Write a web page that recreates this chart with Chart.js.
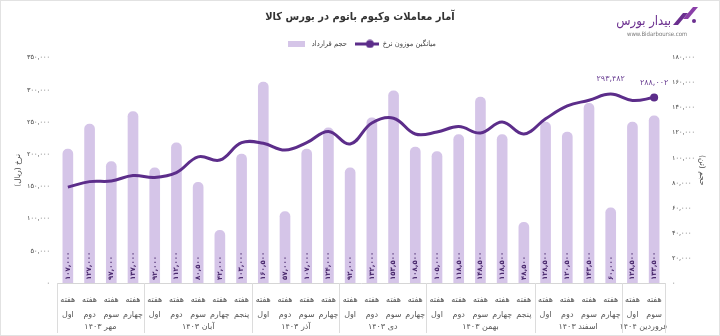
<!DOCTYPE html>
<html lang="fa">
<head>
<meta charset="utf-8">
<script src="https://cdn.jsdelivr.net/npm/chart.js@4.4.1/dist/chart.umd.min.js"></script>
<style>
  html, body { margin: 0; padding: 0; background: #fff; }
  #wrap { position: relative; width: 720px; height: 336px; overflow: hidden; }
  #frame { position: absolute; left: 0; top: 0; width: 718px; height: 334px; border: 1px solid #e2e2e2; pointer-events: none; }
  #logo { position: absolute; left: 624px; top: 4px; width: 80px; height: 34px; font-family: "DejaVu Sans Condensed", "DejaVu Sans", sans-serif; }
  #logo .name { position: absolute; right: 33px; top: 9px; white-space: nowrap; font-size: 13px; color: #6b2f8f; direction: rtl; }
  #logo .url { position: absolute; left: 3px; top: 26px; font-size: 6px; color: #7a7a7a; }
  #logo svg { position: absolute; left: 47px; top: 1px; }
</style>
</head>
<body>
<div id="wrap">
  <canvas id="c" width="720" height="336"></canvas>
  <div id="logo">
    <svg width="28" height="22" viewBox="0 0 28 22"><path d="M2 20 L12 8 L17 8 L7 20 Z" fill="#6b2f8f"/><path d="M12 14 L22 2 L27 2 L17 14 Z" fill="#8a3fa8"/><circle cx="23" cy="16" r="2" fill="#6b2f8f"/></svg>
    <div class="name">بیدار بورس</div>
    <div class="url">www.Bidarbourse.com</div>
  </div>
  <div id="frame"></div>
</div>
<script>
// ---- data ----
const weekNames = ["اول","دوم","سوم","چهارم",
                   "اول","دوم","سوم","چهارم","پنجم",
                   "اول","دوم","سوم","چهارم",
                   "اول","دوم","سوم","چهارم",
                   "اول","دوم","سوم","چهارم","پنجم",
                   "اول","دوم","سوم","چهارم",
                   "اول","سوم"];
const monthLabels = ["مهر ۱۴۰۳","آبان ۱۴۰۳","آذر ۱۴۰۳","دی ۱۴۰۳","بهمن ۱۴۰۳","اسفند ۱۴۰۳","فروردین ۱۴۰۴"];
const monthSpans = [4,5,4,4,5,4,2];
const volume = [107000,127000,97000,137000,
                92000,112000,80500,42000,103000,
                160500,57000,107000,124000,
                92000,132000,153500,108500,
                105000,118500,148500,118500,48500,
                128500,120500,143500,60000,
                128500,133500];
const price = [149000,157500,158500,167000,
               164000,171500,196000,191000,218000,
               217000,206500,218000,235500,
               216000,248500,256000,231500,
               234500,243000,233000,250000,231500,
               255000,275000,284000,293482,
               283500,288002];
const labeledPricePoints = [25, 27];
const titleText = "آمار معاملات وکیوم باتوم در بورس کالا";
const volumeName = "حجم قرارداد";
const priceName = "میانگین موزون نرخ";
const leftAxisTitle = "نرخ (ریال)";
const rightAxisTitle = "حجم (تن)";

// ---- helpers ----
const FONT = '"DejaVu Sans", sans-serif';
const CFONT = '"DejaVu Sans Condensed", "DejaVu Sans", sans-serif';
const faDigits = '۰۱۲۳۴۵۶۷۸۹';
const fa = n => Number(n).toLocaleString('en-US').replace(/\d/g, d => faDigits[d]);
const BAR = '#d5c5e8';
const LINE = '#5c2d8a';

function makeIcon(w, h, draw) {
  const c = document.createElement('canvas');
  c.width = w; c.height = h;
  draw(c.getContext('2d'));
  return c;
}
const barIcon = makeIcon(17, 6, g => { g.fillStyle = BAR; g.fillRect(0, 0, 17, 6); });
const lineIcon = makeIcon(24, 9, g => {
  g.strokeStyle = LINE; g.lineWidth = 3; g.beginPath(); g.moveTo(0, 4.5); g.lineTo(24, 4.5); g.stroke();
  g.fillStyle = LINE; g.beginPath(); g.arc(15, 4.5, 4, 0, Math.PI * 2); g.fill();
});

const extras = {
  id: 'extras',
  afterDatasetsDraw(chart) {
    const ctx = chart.ctx;
    const barMeta = chart.getDatasetMeta(1);
    ctx.save();
    ctx.fillStyle = '#4b2a6e';
    ctx.font = 'bold 7px ' + FONT;
    ctx.textBaseline = 'middle';
    ctx.textAlign = 'left';
    barMeta.data.forEach((el, i) => {
      ctx.save();
      ctx.translate(el.x, el.base - 3);
      ctx.rotate(-Math.PI / 2);
      ctx.fillText(fa(volume[i]), 0, 0);
      ctx.restore();
    });
    const lineMeta = chart.getDatasetMeta(0);
    ctx.fillStyle = '#6a3f93';
    ctx.font = '8px ' + FONT;
    ctx.textAlign = 'center';
    labeledPricePoints.forEach(i => {
      const p = lineMeta.data[i];
      ctx.fillText(fa(price[i]), p.x, p.y - 15);
    });
    ctx.restore();
  },
  afterDraw(chart) {
    const ctx = chart.ctx;
    const xs = chart.scales.x;
    const area = chart.chartArea;
    const px = i => xs.getPixelForValue(i);
    const half = (px(1) - px(0)) / 2;
    ctx.save();
    ctx.strokeStyle = '#dcdcdc';
    ctx.lineWidth = 1;
    ctx.fillStyle = '#555';
    ctx.font = '8px ' + FONT;
    ctx.textAlign = 'center';
    ctx.textBaseline = 'middle';
    let start = 0;
    const bounds = [px(0) - half];
    monthSpans.forEach((n, k) => {
      const end = start + n - 1;
      const cx = (px(start) + px(end)) / 2;
      ctx.fillText(monthLabels[k], cx, area.bottom + 44);
      bounds.push(px(end) + half);
      start += n;
    });
    bounds.forEach(b => {
      const x = Math.round(b) + 0.5;
      ctx.beginPath();
      ctx.moveTo(x, area.bottom);
      ctx.lineTo(x, area.bottom + 50);
      ctx.stroke();
    });
    ctx.restore();
  }
};

new Chart(document.getElementById('c'), {
  type: 'bar',
  data: {
    labels: weekNames.map(w => ["هفته", w]),
    datasets: [
      {
        type: 'line',
        label: priceName,
        data: price,
        yAxisID: 'yL',
        borderColor: LINE,
        backgroundColor: LINE,
        borderWidth: 3,
        tension: 0.4,
        pointRadius: price.map((v, i) => i === price.length - 1 ? 4 : 0),
        pointBackgroundColor: LINE,
        pointBorderWidth: 0,
        order: 0
      },
      {
        type: 'bar',
        label: volumeName,
        data: volume,
        yAxisID: 'yR',
        backgroundColor: BAR,
        barThickness: 10,
        borderRadius: { topLeft: 5, topRight: 5, bottomLeft: 0, bottomRight: 0 },
        borderSkipped: 'bottom',
        order: 1
      }
    ]
  },
  options: {
    responsive: false,
    animation: false,
    layout: { padding: { top: 0, bottom: 0, left: 0, right: 0 } },
    plugins: {
      tooltip: { enabled: false },
      title: {
        display: true,
        text: titleText,
        color: '#333',
        font: { family: CFONT, size: 11, weight: 'bold' },
        padding: { top: 11, bottom: 8 }
      },
      legend: {
        display: true,
        labels: {
          usePointStyle: true,
          pointStyleWidth: 24,
          boxHeight: 8,
          padding: 8,
          color: '#444',
          font: { family: CFONT, size: 7.5 },
          sort: (a, b) => b.datasetIndex - a.datasetIndex,
          generateLabels: chart => chart.data.datasets.map((ds, i) => ({
            text: ds.label,
            datasetIndex: i,
            pointStyle: i === 0 ? lineIcon : barIcon,
            fillStyle: ds.backgroundColor,
            strokeStyle: ds.backgroundColor,
            lineWidth: 0,
            fontColor: '#444',
            hidden: false
          }))
        }
      }
    },
    scales: {
      x: {
        grid: { display: false, drawTicks: false },
        border: { display: true, color: '#d6d6d6' },
        ticks: {
          autoSkip: false, maxRotation: 0, minRotation: 0,
          color: '#555', padding: 9,
          font: { family: FONT, size: 8, lineHeight: 1.9 }
        },
        afterFit: s => { s.height = 53; }
      },
      yL: {
        position: 'left',
        min: 0, max: 350000,
        grid: { display: false, drawTicks: false },
        border: { display: false },
        ticks: { stepSize: 50000, color: '#444', padding: 7, font: { family: FONT, size: 6.5 }, callback: v => fa(v) },
        title: { display: true, text: leftAxisTitle, color: '#444', font: { family: FONT, size: 7.5 }, padding: { top: 14, bottom: 0 } },
        afterFit: s => { s.width = 57; }
      },
      yR: {
        position: 'right',
        min: 0, max: 180000,
        grid: { display: false, drawTicks: false },
        border: { display: false },
        ticks: { stepSize: 20000, color: '#444', padding: 7, font: { family: FONT, size: 6.5 }, callback: v => fa(v) },
        title: { display: true, text: rightAxisTitle, color: '#444', font: { family: FONT, size: 7.5 }, padding: { top: 14, bottom: 0 } },
        afterFit: s => { s.width = 55; }
      }
    }
  },
  plugins: [extras]
});
</script>
</body>
</html>
